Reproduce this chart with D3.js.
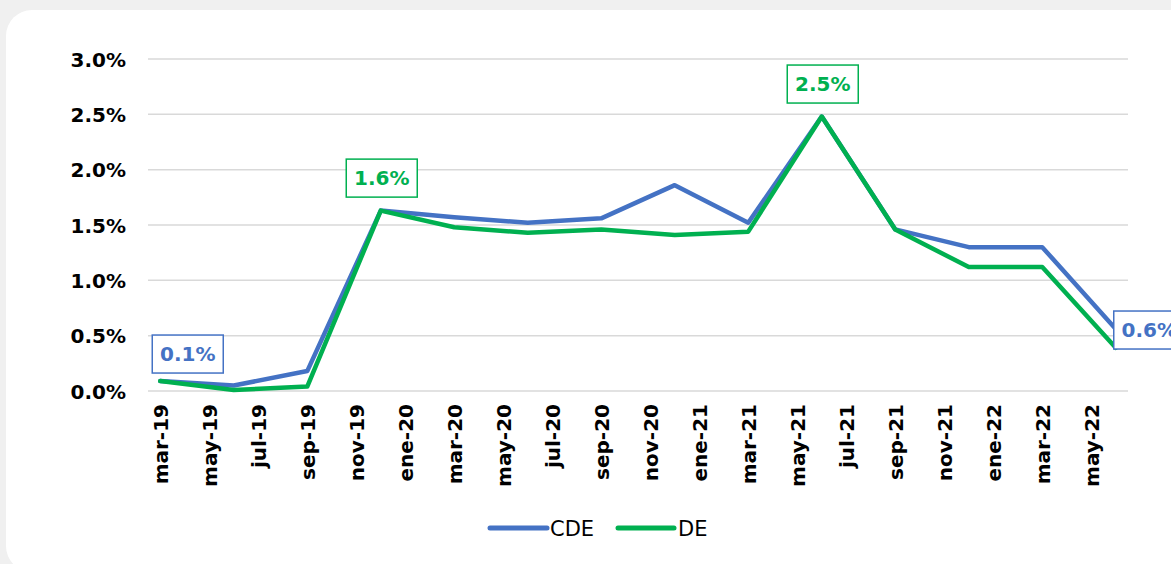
<!DOCTYPE html>
<html>
<head>
<meta charset="utf-8">
<script src="https://cdn.jsdelivr.net/npm/d3@7"></script>
<style>
  html, body { margin: 0; padding: 0; background: #f0f0f0; }
  svg { display: block; }
</style>
</head>
<body>
<svg id="chart" width="1171" height="564"></svg>
<script>
// Monthly category axis (mar-19 … jun-22)
const months = ["mar-19","abr-19","may-19","jun-19","jul-19","ago-19","sep-19","oct-19","nov-19","dic-19",
  "ene-20","feb-20","mar-20","abr-20","may-20","jun-20","jul-20","ago-20","sep-20","oct-20","nov-20","dic-20",
  "ene-21","feb-21","mar-21","abr-21","may-21","jun-21","jul-21","ago-21","sep-21","oct-21","nov-21","dic-21",
  "ene-22","feb-22","mar-22","abr-22","may-22","jun-22"];

// Quarterly observations
const obsMonths = ["mar-19","jun-19","sep-19","dic-19","mar-20","jun-20","sep-20","dic-20",
  "mar-21","jun-21","sep-21","dic-21","mar-22","jun-22"];
const cde = [0.0009, 0.0005, 0.0018, 0.0163, 0.0157, 0.0152, 0.0156, 0.0186, 0.0152, 0.0248, 0.0146, 0.0130, 0.0130, 0.0056];
const de  = [0.0009, 0.0001, 0.0004, 0.0163, 0.0148, 0.0143, 0.0146, 0.0141, 0.0144, 0.0248, 0.0146, 0.0112, 0.0112, 0.0039];

const yTicks = [0, 0.005, 0.01, 0.015, 0.02, 0.025, 0.03];
const seriesNames = ["CDE", "DE"];
const seriesColors = ["#4472C4", "#00B050"];

// Labelled points: series index, month, box offset from the point
const labelled = [
  { s: 0, m: "mar-19", dx: 27.5, dy: -27 },
  { s: 1, m: "dic-19", dx: 1,    dy: -32.5 },
  { s: 1, m: "jun-21", dx: 1,    dy: -32.5 },
  { s: 0, m: "jun-22", dx: 33.5, dy: 1 }
];

const FONT = "'DejaVu Sans', sans-serif";
const svg = d3.select("#chart");

// card background
svg.append("rect")
  .attr("x", 6).attr("y", 10).attr("width", 1190).attr("height", 562)
  .attr("rx", 26).attr("ry", 26).attr("fill", "#ffffff");

const x = d3.scalePoint().domain(months).range([148, 1128]).padding(0.5);
const y = d3.scaleLinear().domain([0, 0.03]).range([391, 59]);
const fmt = d3.format(".1%");

// horizontal gridlines
svg.append("g").selectAll("line").data(yTicks).join("line")
  .attr("x1", 148).attr("x2", 1128)
  .attr("y1", d => y(d)).attr("y2", d => y(d))
  .attr("stroke", "#d9d9d9").attr("stroke-width", 1.5);

// y axis labels
const yAxis = svg.append("g").attr("transform", "translate(126,0)")
  .call(d3.axisLeft(y).tickValues(yTicks).tickFormat(fmt).tickSize(0).tickPadding(0));
yAxis.select(".domain").remove();
yAxis.selectAll("text")
  .attr("font-family", FONT).attr("font-size", 20).attr("font-weight", "bold")
  .attr("fill", "#000").attr("dy", "0.36em");

// x axis labels, every second month, rotated
const xAxis = svg.append("g").attr("transform", "translate(0,391)")
  .call(d3.axisBottom(x).tickValues(months.filter((d, i) => i % 2 === 0)).tickSize(0));
xAxis.select(".domain").remove();
xAxis.selectAll("text")
  .attr("font-family", FONT).attr("font-size", 20).attr("font-weight", "bold")
  .attr("fill", "#000")
  .attr("text-anchor", "end")
  .attr("transform", "rotate(-90)")
  .attr("x", -13).attr("y", 0).attr("dy", "0.36em");

// series lines
const series = [cde, de];
const line = d3.line()
  .x(d => x(d.m))
  .y(d => y(d.v));
series.forEach((vals, si) => {
  const pts = obsMonths.map((m, i) => ({ m, v: vals[i] }));
  svg.append("path").datum(pts)
    .attr("d", line)
    .attr("fill", "none")
    .attr("stroke", seriesColors[si])
    .attr("stroke-width", 4.5)
    .attr("stroke-linejoin", "round")
    .attr("stroke-linecap", "round");
});

// value labels in boxes
const boxW = 71, boxH = 38;
labelled.forEach(l => {
  const v = series[l.s][obsMonths.indexOf(l.m)];
  const cx = x(l.m) + l.dx, cy = y(v) + l.dy;
  const g = svg.append("g");
  g.append("rect")
    .attr("x", cx - boxW / 2).attr("y", cy - boxH / 2)
    .attr("width", boxW).attr("height", boxH)
    .attr("fill", "#fff").attr("stroke", seriesColors[l.s]).attr("stroke-width", 1.5);
  g.append("text")
    .attr("x", cx).attr("y", cy).attr("dy", "0.36em")
    .attr("text-anchor", "middle")
    .attr("font-family", FONT).attr("font-size", 20).attr("font-weight", "bold")
    .attr("fill", seriesColors[l.s])
    .text(fmt(v));
});

// legend
const legend = svg.append("g");
const legendItems = [
  { x1: 490, x2: 547, tx: 550 },
  { x1: 618, x2: 674, tx: 678 }
];
legendItems.forEach((it, i) => {
  legend.append("line")
    .attr("x1", it.x1).attr("x2", it.x2).attr("y1", 528).attr("y2", 528)
    .attr("stroke", seriesColors[i]).attr("stroke-width", 5).attr("stroke-linecap", "round");
  legend.append("text")
    .attr("x", it.tx).attr("y", 528).attr("dy", "0.36em")
    .attr("font-family", FONT).attr("font-size", 21)
    .attr("fill", "#000")
    .text(seriesNames[i]);
});
</script>
</body>
</html>
